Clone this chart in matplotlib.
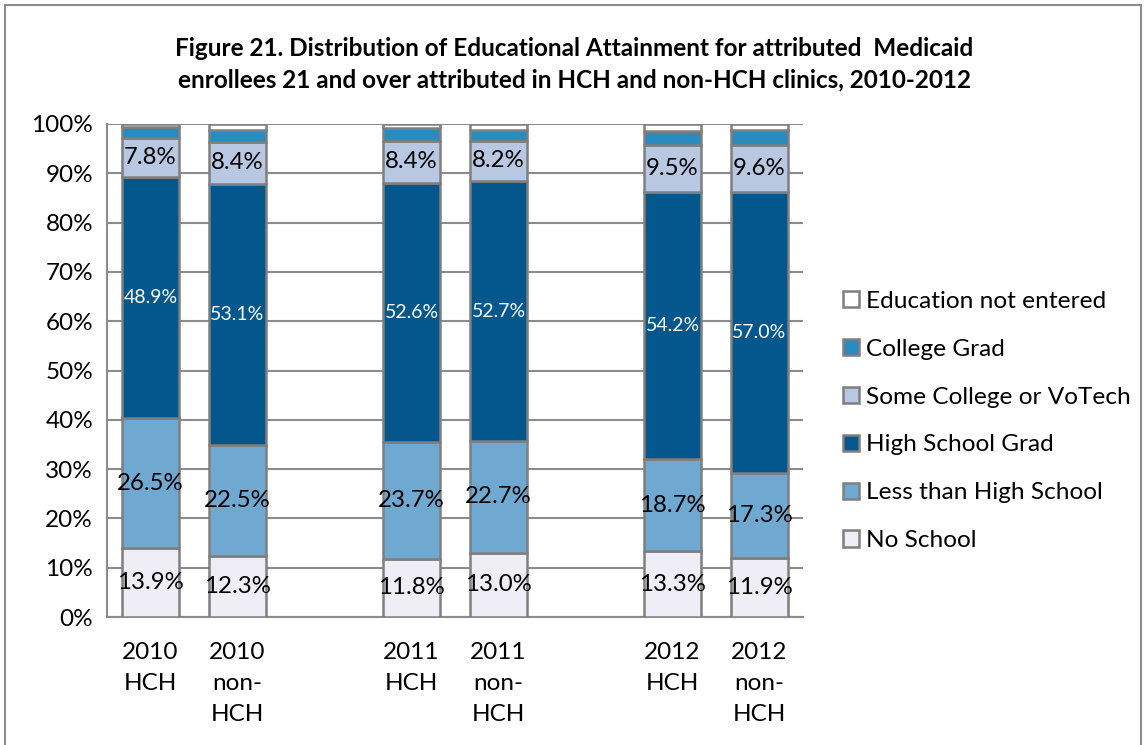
import matplotlib
matplotlib.use("Agg")
import matplotlib.pyplot as plt
from matplotlib.patches import Rectangle
import numpy as np

categories = ["2010\nHCH", "2010\nnon-\nHCH", "2011\nHCH", "2011\nnon-\nHCH", "2012\nHCH", "2012\nnon-\nHCH"]
positions = [0, 1, 3, 4, 6, 7]

no_school = [13.9, 12.3, 11.8, 13.0, 13.3, 11.9]
less_than_hs = [26.5, 22.5, 23.7, 22.7, 18.7, 17.3]
hs_grad = [48.9, 53.1, 52.6, 52.7, 54.2, 57.0]
some_college = [7.8, 8.4, 8.4, 8.2, 9.5, 9.6]
college_grad = [2.2, 2.5, 2.6, 2.2, 2.9, 2.9]
not_entered = [0.7, 1.2, 0.9, 1.2, 1.4, 1.3]

series = [
    ("No School", no_school, "#EFEDF5", "#000000", True),
    ("Less than High School", less_than_hs, "#6FA8D1", "#000000", True),
    ("High School Grad", hs_grad, "#04578D", "#FFFFFF", True),
    ("Some College or VoTech", some_college, "#B9C8E2", "#000000", True),
    ("College Grad", college_grad, "#2A8BBF", "#000000", False),
    ("Education not entered", not_entered, "#FFFFFF", "#000000", False),
]

plt.rcParams['font.family'] = ['Lato', 'DejaVu Sans']

fig = plt.figure(figsize=(11.46, 7.45), dpi=100)
ax = fig.add_axes([107/1146, 1-617/745, (803-107)/1146, (617-124)/745])

bottom = np.zeros(len(positions))
handles = []
for name, vals, color, tcolor, show in series:
    vals = np.array(vals)
    bars = ax.bar(positions, vals, 0.655, bottom=bottom, color=color,
                  edgecolor="#7F7F7F", linewidth=1.8, label=name, zorder=3)
    handles.append(bars)
    if show:
        for x, b, v in zip(positions, bottom, vals):
            fs = 14 if tcolor == "#FFFFFF" else 17.3
            ax.text(x, b + v / 2, f"{v:.1f}%", ha="center", va="center",
                    color=tcolor, fontsize=fs, zorder=4)
    bottom = bottom + vals

ax.set_xlim(-0.5, 7.5)
ax.set_ylim(0, 100)
ax.set_yticks(np.arange(0, 101, 10))
ax.set_yticklabels([f"{t}%" for t in range(0, 101, 10)], fontsize=17.5)
ax.set_xticks(positions)
ax.set_xticklabels(categories, fontsize=17.5, linespacing=1.6, va="top")
ax.tick_params(length=0, pad=10)
ax.tick_params(axis="x", pad=18)
ax.grid(axis="y", color="#8C8C8C", linewidth=1.5, zorder=0)
for s in ["top", "right"]:
    ax.spines[s].set_visible(False)
for s in ["left", "bottom"]:
    ax.spines[s].set_color("#8C8C8C")
    ax.spines[s].set_linewidth(1.5)

leg = fig.legend(handles[::-1], [s[0] for s in series][::-1],
                 loc="center left", bbox_to_anchor=(821/1146, 1-421/745),
                 frameon=False, fontsize=17.6, handlelength=0.65, handleheight=0.65,
                 handletextpad=0.3, labelspacing=1.1)

fig.text(574/1146, 1-64/745,
         "Figure 21. Distribution of Educational Attainment for attributed  Medicaid\n"
         "enrollees 21 and over attributed in HCH and non-HCH clinics, 2010-2012",
         ha="center", va="center", fontsize=17.5, fontweight="bold", linespacing=1.45)

fig.patches.append(Rectangle((5/1146, -0.02), 1136/1146, 1.02 - 5/745,
                             transform=fig.transFigure, fill=False,
                             edgecolor="#8C8C8C", linewidth=1.5))

fig.savefig("out.png", dpi=100)
